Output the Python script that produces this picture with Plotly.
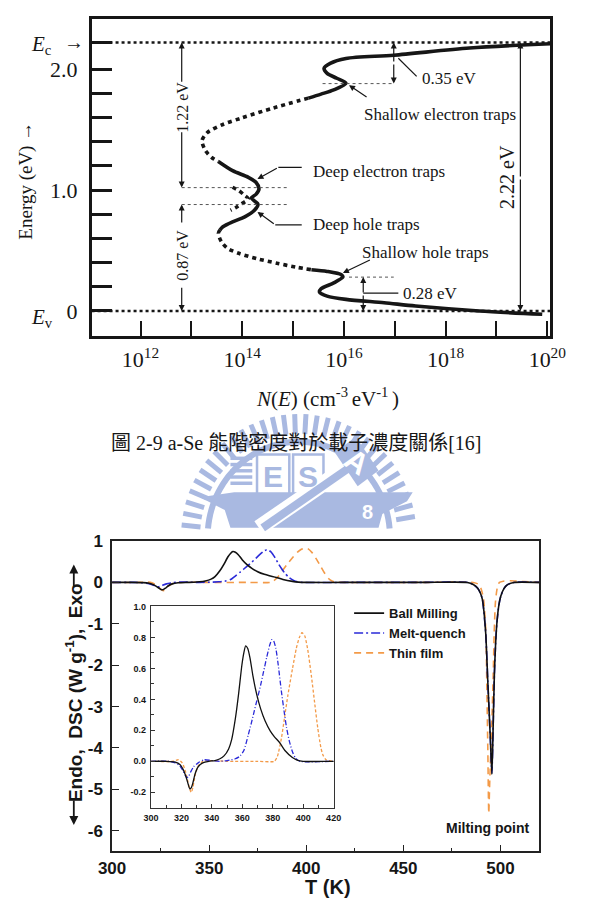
import numpy as np
import plotly.graph_objects as go

W, H = 592, 919
def px(x): return x / W
def py(y): return 1 - y / H

# ---------------- Fig. 2-9 : a-Se density of states ----------------
# log10 N(E) [cm^-3 eV^-1] and energy E [eV], per segment
upper_solid_logN = [20.06, 18.47, 16.98, 16.04, 15.73, 15.61, 15.67, 15.86, 16.04, 15.80, 15.55, 15.30]
upper_solid_E = [2.210, 2.174, 2.115, 2.088, 2.047, 2.006, 1.965, 1.924, 1.883, 1.828, 1.793, 1.760]
upper_dotted_logN = [15.30, 14.61, 13.99, 13.62, 13.31, 13.21, 13.28, 13.40, 13.53]
upper_dotted_E = [1.760, 1.678, 1.596, 1.542, 1.474, 1.406, 1.324, 1.269, 1.236]
deep_solid_logN = [13.53, 13.81, 14.12, 14.27, 14.33, 14.27, 14.18, 14.24, 14.31, 14.24, 14.05, 13.81, 13.62, 13.56]
deep_solid_E = [1.236, 1.160, 1.105, 1.064, 1.009, 0.964, 0.936, 0.909, 0.882, 0.833, 0.778, 0.737, 0.696, 0.669]
deep_dotted_logN = [13.81, 13.93, 14.05, 14.12, 13.99, 13.87, 13.77]
deep_dotted_E = [1.023, 0.996, 0.955, 0.928, 0.887, 0.854, 0.833]
lower_dotted_logN = [13.56, 13.53, 13.59, 13.71, 13.93, 14.30, 14.68, 15.05, 15.36]
lower_dotted_E = [0.669, 0.641, 0.573, 0.518, 0.477, 0.431, 0.395, 0.363, 0.341]
lower_solid_logN = [15.36, 15.67, 15.95, 15.98, 15.80, 15.55, 15.52, 15.67, 16.04, 16.79, 17.41, 18.66, 19.90]
lower_solid_E = [0.341, 0.327, 0.300, 0.281, 0.232, 0.183, 0.156, 0.123, 0.096, 0.068, 0.041, 0.000, -0.027]

E_c = 2.22
E_v = 0.0
E_shallow_e = 1.88
E_deep_e = 1.02
E_deep_h = 0.88
E_shallow_h = 0.28
gap_texts = ["1.22 eV", "0.87 eV", "0.35 eV", "0.28 eV", "2.22 eV"]
trap_texts = ["Shallow electron traps", "Deep electron traps", "Deep hole traps", "Shallow hole traps"]
decade_major = [12, 14, 16, 18, 20]
decade_minor = [13, 15, 17, 19]
energy_ticks = [0.0, 0.2, 0.4, 0.6, 0.8, 1.0, 1.2, 1.4, 1.6, 1.8, 2.0]
energy_labels = {0.0: "0", 1.0: "1.0", 2.0: "2.0"}
caption = "圖 2-9 a-Se 能階密度對於載子濃度關係[16]"

# ---------------- DSC curves (T in K, DSC in W/g) ----------------
T_ball = [300, 310, 316, 319, 321, 323, 324.5, 325.5, 326.5, 327.5, 329, 331, 334, 338, 342, 345, 348, 351, 353,
          355.5, 357.5, 359.7, 361, 362.2, 363.5, 365, 367, 369.5, 372, 375, 378.4, 381, 384.6, 388, 392.9, 396,
          400, 420, 460, 483, 486, 488.3, 489.6, 490.7, 492.4, 493.5, 494.8, 495.6, 496.2, 496.9, 497.5, 498.2,
          499.2, 500.2, 501.8, 503.5, 507, 520]
DSC_ball = [0, 0, -0.005, -0.02, -0.05, -0.1, -0.15, -0.178, -0.17, -0.14, -0.08, -0.035, -0.01, 0, 0.005, 0.015,
            0.035, 0.08, 0.14, 0.28, 0.43, 0.62, 0.70, 0.745, 0.73, 0.67, 0.55, 0.43, 0.34, 0.26, 0.195, 0.16,
            0.12, 0.07, 0.025, 0.008, 0, 0, 0, 0, -0.05, -0.14, -0.25, -0.41, -1.21, -2.4, -3.76, -4.64, -3.6,
            -2.2, -1.5, -0.97, -0.55, -0.33, -0.15, -0.06, 0, 0]

T_mq = [300, 312, 316, 319, 321, 322.5, 323.5, 324.5, 326, 328, 331, 335, 340, 345, 350, 355, 358, 361, 363.9,
        366, 368, 370, 372, 374, 376, 378, 379.4, 380.5, 382, 383.5, 385.7, 387.5, 389, 390.9, 393, 395, 398,
        420, 460, 483, 486, 488.3, 489.6, 490.7, 492.4, 493.5, 494.8, 495.6, 496.2, 496.9, 497.5, 498.2, 499.2,
        500.2, 501.8, 503.5, 507, 520]
DSC_mq = [0, 0, -0.01, -0.03, -0.06, -0.09, -0.105, -0.1, -0.07, -0.035, -0.01, 0.01, 0.005, 0, 0.005, 0.015,
          0.03, 0.07, 0.17, 0.25, 0.33, 0.41, 0.49, 0.58, 0.67, 0.75, 0.785, 0.78, 0.73, 0.63, 0.45, 0.32, 0.22,
          0.13, 0.06, 0.02, 0, 0, 0, 0, -0.05, -0.14, -0.25, -0.41, -1.21, -2.4, -3.76, -4.6, -3.6, -2.2, -1.5,
          -0.97, -0.55, -0.33, -0.15, -0.06, 0, 0]

T_tf = [300, 314, 318, 320.5, 322.5, 324, 325.5, 326.5, 327.5, 329, 331, 334, 338, 350, 370, 381, 383, 385.7,
        388, 390, 393, 395.5, 397.5, 399.2, 401, 403, 405.4, 407.5, 409.5, 411.6, 413, 415, 420, 460, 486, 488.5,
        490, 491.3, 492.5, 493.0, 493.5, 494.0, 494.5, 495.5, 496.3, 496.8, 497.4, 498.3, 499.5, 501.5, 505,
        512, 520]
DSC_tf = [0, 0, 0.01, -0.01, -0.06, -0.12, -0.18, -0.2, -0.17, -0.09, -0.03, 0, 0.005, 0, 0, 0, 0.03, 0.15,
          0.3, 0.43, 0.6, 0.73, 0.8, 0.83, 0.81, 0.72, 0.55, 0.38, 0.22, 0.09, 0.04, 0.01, 0, 0, 0, -0.04, -0.15,
          -0.4, -1.2, -2.5, -4.0, -5.58, -4.8, -3.5, -2.2, -1.2, -0.5, -0.15, 0, 0.03, 0.04, 0.02, 0]

series_names = ["Ball Milling", "Melt-quench", "Thin film"]
main_x_ticks = [300, 350, 400, 450, 500]
main_y_ticks = [-6, -5, -4, -3, -2, -1, 0, 1]
inset_x_ticks = [300, 320, 340, 360, 380, 400, 420]
inset_y_ticks = [-0.2, 0.0, 0.2, 0.4, 0.6, 0.8, 1.0]

# ---------------- figure ----------------
INK = "#161616"
SERIF = "Liberation Serif, Noto Sans CJK TC"
SANS = "Liberation Sans, Arial"
fig = go.Figure()

def seg(xv, yv, dash):
    fig.add_trace(go.Scatter(x=xv, y=yv, mode="lines", xaxis="x", yaxis="y", showlegend=False,
                             hoverinfo="skip",
                             line=dict(color=INK, width=3.6, shape="spline", smoothing=0.8, dash=dash)))

seg(upper_solid_logN, upper_solid_E, "solid")
seg(upper_dotted_logN, upper_dotted_E, "4px,4px")
seg(deep_solid_logN, deep_solid_E, "solid")
seg(deep_dotted_logN, deep_dotted_E, "4px,4px")
seg(lower_dotted_logN, lower_dotted_E, "4px,4px")
seg(lower_solid_logN, lower_solid_E, "solid")

colors = ["#111111", "#2a2ad8", "#f39a48"]
main_dash = ["solid", "9px,3px,2px,3px", "7px,5px"]
inset_dash = ["solid", "5px,2px,1px,2px", "3px,2px"]
data = [(T_ball, DSC_ball), (T_mq, DSC_mq), (T_tf, DSC_tf)]
order = [2, 1, 0]          # black drawn last (on top)
for i in order:
    T, D = data[i]
    fig.add_trace(go.Scatter(x=T, y=D, mode="lines", xaxis="x2", yaxis="y2", name=series_names[i],
                             showlegend=True, hoverinfo="skip",
                             line=dict(color=colors[i], width=1.6, dash=main_dash[i], shape="spline", smoothing=0.6)))
for i in order:
    T, D = data[i]
    fig.add_trace(go.Scatter(x=T, y=D, mode="lines", xaxis="x3", yaxis="y3", showlegend=False, hoverinfo="skip",
                             line=dict(color=colors[i], width=1.3, dash=inset_dash[i], shape="spline", smoothing=0.6)))

ann = []
shp = []

def arrow(xh, yh, xt, yt, w=1.2, size=1.0, head=2):
    ann.append(dict(x=xh, y=yh, ax=xt, ay=yt, xref="x", yref="y", axref="x", ayref="y", text="",
                    showarrow=True, arrowhead=head, arrowsize=size, arrowwidth=w, arrowcolor=INK))

def line(x0, y0, x1, y1, w=1.2, dash="solid", color=INK):
    shp.append(dict(type="line", xref="x", yref="y", x0=x0, y0=y0, x1=x1, y1=y1,
                    line=dict(color=color, width=w, dash=dash)))

def text(x, y, s, size=17, angle=0, xanchor="center", xref="x", yref="y", font=SERIF, weight="normal"):
    ann.append(dict(x=x, y=y, xref=xref, yref=yref, text=s, showarrow=False, textangle=angle,
                    xanchor=xanchor, yanchor="middle",
                    font=dict(family=font, size=size, color=INK, weight=weight)))

# Ec / Ev dotted lines
for e in (E_c, E_v):
    shp.append(dict(type="line", xref="x domain", yref="y", x0=0, x1=1, y0=e, y1=e,
                    line=dict(color=INK, width=2.4, dash="3px,3px")))
# thin dashed level markers
line(15.58, E_shallow_e, 16.98, E_shallow_e, 1, "3px,3px", "#555")
line(12.81, E_deep_e, 14.93, E_deep_e, 1, "3px,3px", "#555")
line(12.81, E_deep_h, 14.93, E_deep_h, 1, "3px,3px", "#555")
line(16.10, E_shallow_h, 16.98, E_shallow_h, 1, "3px,3px", "#555")

# 1.22 eV
arrow(12.81, E_c, 12.81, 1.883)
arrow(12.81, E_deep_e, 12.81, 1.49)
text(12.81, 1.686, gap_texts[0], 16, -90)
# 0.87 eV
arrow(12.81, E_deep_h, 12.81, 0.72)
arrow(12.81, E_v, 12.81, 0.205)
text(12.81, 0.462, gap_texts[1], 16, -90)
# 0.35 eV
arrow(16.98, E_c, 16.98, 2.05)
arrow(16.98, E_shallow_e, 16.98, 2.05)
line(17.07, 2.09, 17.43, 1.94)
text(17.5, 1.924, gap_texts[2], 17, 0, "left")
# 0.28 eV
arrow(16.38, E_shallow_h, 16.38, 0.14)
arrow(16.38, E_v, 16.38, 0.14)
line(16.38, 0.147, 17.07, 0.147)
text(17.13, 0.147, gap_texts[3], 17, 0, "left")
# 2.22 eV
arrow(19.47, E_c, 19.47, 1.1)
arrow(19.47, E_v, 19.47, 1.1)
text(19.22, 1.105, gap_texts[4], 20, -90)
# trap labels
text(16.36, 1.621, trap_texts[0], 17, 0, "left")
arrow(16.10, 1.867, 16.475, 1.76)
text(15.35, 1.154, trap_texts[1], 17, 0, "left")
line(15.17, 1.187, 14.71, 1.187)
arrow(14.30, 1.091, 14.71, 1.187)
text(15.35, 0.712, trap_texts[2], 17, 0, "left")
line(15.17, 0.712, 14.65, 0.712)
arrow(14.30, 0.819, 14.65, 0.712)
text(16.32, 0.483, trap_texts[3], 17, 0, "left")
arrow(15.98, 0.314, 16.54, 0.428)

# Ec / Ev labels and axis titles of top chart
text(px(29), E_c - 0.02, "<i>E</i><sub>c</sub>", 21, 0, "center", "paper", "y")
text(px(63), E_c, "→", 20, 0, "center", "paper", "y")
text(px(29), -0.06, "<i>E</i><sub>v</sub>", 21, 0, "center", "paper", "y")
text(px(13), py(173), "Energy (eV) →", 19, -90, "center", "paper", "paper")
text(px(330), py(392), "<i>N</i>(<i>E</i>) (cm<sup>-3 </sup>eV<sup>-1 </sup>)", 21, 0, "center", "paper", "paper")
text(px(298), py(438), caption, 20, 0, "center", "paper", "paper")

# bottom chart titles
text(px(63), py(690), "Endo,  DSC (W g<sup>-1</sup>),  Exo", 19, -90, "center", "paper", "paper", SANS, "bold")
ann.append(dict(x=px(63), y=py(561), xref="paper", yref="paper", ax=0, ay=24, text="", showarrow=True,
                arrowhead=2, arrowsize=1, arrowwidth=1.8, arrowcolor=INK))
ann.append(dict(x=px(63), y=py(824), xref="paper", yref="paper", ax=0, ay=-26, text="", showarrow=True,
                arrowhead=2, arrowsize=1, arrowwidth=1.8, arrowcolor=INK))
text(px(331), py(887), "T (K)", 20, 0, "center", "paper", "paper", SANS, "bold")
text(px(499), py(827), "Milting point", 14, 0, "center", "paper", "paper", SANS, "bold")

# ---------------- watermark (faint logo) ----------------
WM = "#a9b9e1"
cx, cy = 300, 533
for ang in np.arange(4, 177, 5.5):
    a = np.radians(ang)
    x0, y0 = cx + 104 * np.cos(a), cy - 104 * np.sin(a)
    x1, y1 = cx + 124 * np.cos(a), cy - 124 * np.sin(a)
    if max(y0, y1) > 524:
        continue
    shp.append(dict(type="line", xref="paper", yref="paper", x0=px(x0), y0=py(y0), x1=px(x1), y1=py(y1),
                    line=dict(color=WM, width=5), layer="below"))
arc = [(cx + 96 * np.cos(np.radians(a)), cy - 96 * np.sin(np.radians(a))) for a in np.linspace(5, 175, 60)]
path = "M " + " L ".join(f"{px(x):.5f},{py(y):.5f}" for x, y in arc)
shp.append(dict(type="path", xref="paper", yref="paper", path=path, line=dict(color=WM, width=6), layer="below"))
for k in range(5):
    shp.append(dict(type="rect", xref="paper", yref="paper", x0=px(228), x1=px(251),
                    y0=py(452 + 6.3 * k), y1=py(455.5 + 6.3 * k), fillcolor=WM, line=dict(width=0), layer="below"))
for (xa, xb) in ((256, 290), (294, 326)):
    shp.append(dict(type="rect", xref="paper", yref="paper", x0=px(xa), x1=px(xb), y0=py(494), y1=py(450),
                    line=dict(color=WM, width=2.5), layer="below"))
anvil = [(196, 493), (232, 488), (420, 488), (414, 497), (388, 510), (384, 524), (228, 524), (222, 506)]
shp.append(dict(type="path", xref="paper", yref="paper", layer="below", fillcolor=WM, line=dict(width=0),
                path="M " + " L ".join(f"{px(x):.5f},{py(y):.5f}" for x, y in anvil) + " Z"))
shp.append(dict(type="line", xref="paper", yref="paper", x0=px(258), y0=py(524), x1=px(352), y1=py(462),
                line=dict(color="white", width=16), layer="below"))
shp.append(dict(type="line", xref="paper", yref="paper", x0=px(262), y0=py(524), x1=px(352), y1=py(464),
                line=dict(color=WM, width=8), layer="below"))
box = [(338, 448), (360, 432), (384, 466), (362, 482)]
shp.append(dict(type="path", xref="paper", yref="paper", layer="below", fillcolor=WM, line=dict(width=0),
                path="M " + " L ".join(f"{px(x):.5f},{py(y):.5f}" for x, y in box) + " Z"))
for (lx, ly, s, col, ang) in ((273, 472, "E", WM, 0), (310, 472, "S", WM, 0), (361, 457, "A", "white", 35),
                              (372, 508, "8", "white", 0)):
    ann.append(dict(x=px(lx), y=py(ly), xref="paper", yref="paper", text=s, showarrow=False, textangle=ang,
                    font=dict(family=SANS, size=30 if s != "8" else 20, color=col, weight="bold")))

# ---------------- layout ----------------
top_y_ticks = energy_ticks + [E_c]
top_y_text = [energy_labels.get(v, "") for v in energy_ticks] + [""]
fig.update_layout(
    width=W, height=H, autosize=False, margin=dict(l=0, r=0, t=0, b=0, pad=0),
    paper_bgcolor="white", plot_bgcolor="rgba(0,0,0,0)",
    font=dict(family=SERIF, color=INK),
    shapes=shp, annotations=ann,
    legend=dict(x=px(353), y=py(595), xanchor="left", yanchor="top", bgcolor="rgba(0,0,0,0)",
                traceorder="reversed",
                font=dict(family=SANS, size=13, color=INK, weight="bold"), tracegroupgap=0),
    xaxis=dict(domain=[px(81.7), px(565)], anchor="y", range=[11.037, 20.06], showgrid=False, zeroline=False,
               showline=True, mirror=True, linecolor=INK, linewidth=2.5,
               tickvals=decade_major, ticktext=[f"10<sup>{d}</sup>" for d in decade_major],
               ticks="inside", ticklen=15, tickwidth=2, tickcolor=INK, ticklabelstandoff=2,
               tickfont=dict(family=SERIF, size=22, color=INK),
               minor=dict(tickvals=decade_minor, ticks="inside", ticklen=15, tickwidth=2, tickcolor=INK)),
    yaxis=dict(domain=[py(330), py(10)], anchor="x", range=[-0.205, 2.415], showgrid=False, zeroline=False,
               showline=True, mirror=True, linecolor=INK, linewidth=2.5,
               tickvals=top_y_ticks, ticktext=top_y_text, ticks="inside", ticklen=21, tickwidth=2.6,
               tickcolor=INK, ticklabelstandoff=7, tickfont=dict(family=SERIF, size=22, color=INK)),
    xaxis2=dict(domain=[px(103.3), px(553.3)], anchor="y2", range=[300, 520], showgrid=False, zeroline=False,
                showline=True, mirror=True, linecolor="#222", linewidth=1.5,
                tickvals=main_x_ticks, ticks="inside", ticklen=7, tickwidth=1.3, tickcolor="#222",
                ticklabelstandoff=0, tickfont=dict(family=SANS, size=17, color=INK, weight="bold"),
                minor=dict(dtick=25, tick0=300, ticks="inside", ticklen=4, tickwidth=1.2, tickcolor="#222")),
    yaxis2=dict(domain=[py(850.7), py(537.3)], anchor="x2", range=[-6.5, 1.0], showgrid=False, zeroline=False,
                showline=True, mirror=True, linecolor="#222", linewidth=1.5,
                tickvals=main_y_ticks, ticktext=[str(v) for v in main_y_ticks], ticks="inside", ticklen=7,
                tickwidth=1.3, tickcolor="#222", ticklabelstandoff=4,
                tickfont=dict(family=SANS, size=17, color=INK, weight="bold")),
    xaxis3=dict(domain=[px(144.3), px(336.7)], anchor="y3", range=[300, 420], showgrid=False, zeroline=False,
                showline=True, mirror=True, linecolor="#333", linewidth=1.2,
                tickvals=inset_x_ticks, ticks="inside", ticklen=4, tickwidth=1, tickcolor="#333",
                ticklabelstandoff=1, tickfont=dict(family=SANS, size=9, color=INK, weight="bold"),
                minor=dict(dtick=10, tick0=300, ticks="inside", ticklen=2.5, tickwidth=1, tickcolor="#333")),
    yaxis3=dict(domain=[py(806.7), py(603.3)], anchor="x3", range=[-0.3, 1.0], showgrid=False, zeroline=False,
                showline=True, mirror=True, linecolor="#333", linewidth=1.2,
                tickvals=inset_y_ticks, ticktext=[f"{v:.1f}" for v in inset_y_ticks], ticks="inside",
                ticklen=4, tickwidth=1, tickcolor="#333", ticklabelstandoff=2,
                tickfont=dict(family=SANS, size=9, color=INK, weight="bold"),
                minor=dict(dtick=0.1, tick0=0, ticks="inside", ticklen=2.5, tickwidth=1, tickcolor="#333")),
)
fig.write_html("out.html", post_script="document.body.style.margin='0px';document.body.style.overflow='hidden';")
